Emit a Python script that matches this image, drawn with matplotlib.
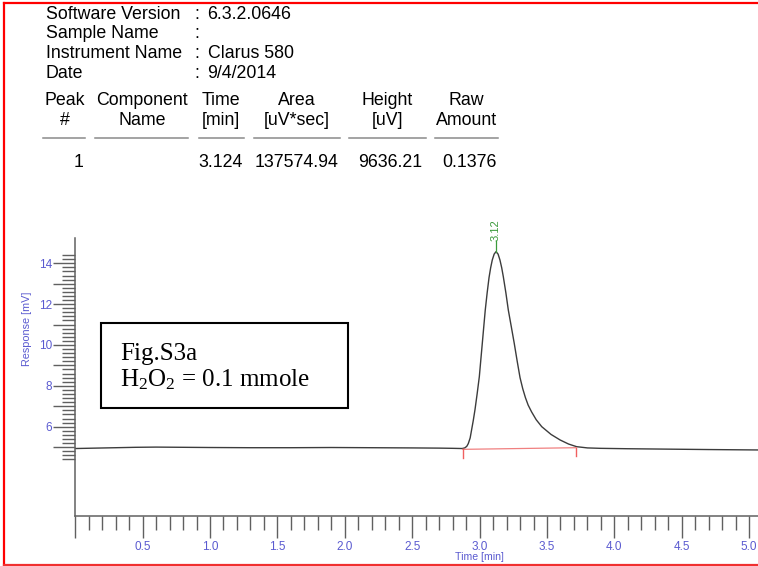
import matplotlib
matplotlib.use('Agg')
import matplotlib.pyplot as plt
from matplotlib.lines import Line2D
from matplotlib.patches import Rectangle
import numpy as np

plt.rcParams['mathtext.fontset'] = 'custom'
plt.rcParams['mathtext.rm'] = 'Liberation Serif'
plt.rcParams['mathtext.it'] = 'Liberation Serif:italic'

# report header
header_keys = ['Software Version', 'Sample Name', 'Instrument Name', 'Date']
header_vals = ['6.3.2.0646', '', 'Clarus 580', '9/4/2014']

# peak table
col_head1 = ['Peak', 'Component', 'Time', 'Area', 'Height', 'Raw']
col_head2 = ['#', 'Name', '[min]', '[uV*sec]', '[uV]', 'Amount']
row_vals = ['1', '', '3.124', '137574.94', '9636.21', '0.1376']

# chromatogram trace (time in min, response in mV)
time = [0.00, 0.15, 0.30, 0.45, 0.60, 0.80, 1.00, 1.30, 1.60, 1.90, 2.20,
        2.50, 2.70, 2.80, 2.87, 2.89, 2.905, 2.916, 2.93, 2.94, 2.953,
        2.966, 2.982, 2.998, 3.009, 3.020, 3.031, 3.042, 3.056, 3.070,
        3.082, 3.094, 3.108, 3.122, 3.137, 3.151, 3.164, 3.176, 3.195,
        3.213, 3.235, 3.257, 3.279, 3.300, 3.320, 3.340, 3.360, 3.386,
        3.420, 3.461, 3.530, 3.597, 3.660, 3.720, 3.800, 3.893, 4.10,
        4.40, 4.70, 5.065]
resp = [4.93, 4.95, 4.97, 4.99, 5.00, 4.99, 4.98, 4.97, 4.97, 4.98, 4.97,
        4.96, 4.95, 4.94, 4.93, 4.96, 5.04, 5.17, 5.45, 5.82, 6.30,
        6.84, 7.62, 8.45, 9.27, 10.08, 10.90, 11.71, 12.55, 13.30,
        13.78, 14.16, 14.45, 14.57, 14.45, 14.16, 13.78, 13.34, 12.55,
        11.71, 10.90, 10.08, 9.20, 8.40, 7.86, 7.42, 7.06, 6.72,
        6.34, 6.00, 5.62, 5.35, 5.15, 5.02, 4.96, 4.94, 4.92,
        4.90, 4.88, 4.86]

# integration baseline and peak label
base_t = [2.875, 3.716]
base_r = [4.89, 4.97]
peak_t = 3.122
peak_r = 14.57
peak_label = '3.12'

W, H = 758, 566
fig = plt.figure(figsize=(W / 100, H / 100), dpi=100)


def fx(px):
    return px / W


def fy(py):
    return 1 - py / H


sans = ['Liberation Sans', 'DejaVu Sans']
narrow = ['Liberation Sans Narrow', 'Liberation Sans', 'DejaVu Sans']
serif = ['Liberation Serif', 'DejaVu Serif']
fs = 12.8

# header lines
for i, (k, v) in enumerate(zip(header_keys, header_vals)):
    yb = 19 + i * 19.5
    fig.text(fx(45.7), fy(yb), k, family=sans, fontsize=fs, va='baseline')
    fig.text(fx(194), fy(yb), ':', family=sans, fontsize=fs, va='baseline')
    fig.text(fx(207.5), fy(yb), v, family=sans, fontsize=fs, va='baseline')

centers = [64.5, 142, 221, 296.5, 387.5, 466.5]
rights = [83.3, 0, 242.7, 338.3, 422.7, 496.7]
rules = [(43, 85), (95, 188), (199, 244), (254, 340), (349, 426), (435, 498)]
for i in range(6):
    fig.text(fx(centers[i]), fy(105), col_head1[i], family=sans, fontsize=fs,
             ha='center', va='baseline')
    fig.text(fx(centers[i]), fy(125), col_head2[i], family=sans, fontsize=fs,
             ha='center', va='baseline')
    fig.add_artist(Line2D([fx(rules[i][0]), fx(rules[i][1])], [fy(138.3), fy(138.3)],
                          color='#8a8a8a', lw=1.1))
    if row_vals[i]:
        fig.text(fx(rights[i]), fy(166.7), row_vals[i], family=sans, fontsize=fs,
                 ha='right', va='baseline')

# plot area
x_left, x_right = 75.2, 758
y_top, y_bot = 238, 516
ax = fig.add_axes([fx(x_left), fy(y_bot), (x_right - x_left) / W, (y_bot - y_top) / H])
ax.set_xlim(0, (x_right - x_left) / 134.8)
ax.set_ylim(5 - (y_bot - 447.1) / 20.425, 5 + (447.1 - y_top) / 20.425)

ax.plot(time, resp, color='#3c3c3c', lw=1.0)
ax.plot(base_t, base_r, color='#f08080', lw=0.9)
for t, r in zip(base_t, base_r):
    ax.plot([t, t], [r, r - 0.42], color='#f06060', lw=1.0)

ax.plot([peak_t, peak_t], [peak_r, peak_r + 0.5], color='#3a9a3a', lw=0.9, clip_on=False)
ax.text(peak_t, peak_r + 0.5, peak_label, rotation=90, ha='center', va='bottom',
        color='#3a9a3a', fontsize=8, family=narrow, clip_on=False)

for s in ['top', 'right']:
    ax.spines[s].set_visible(False)
for s in ['left', 'bottom']:
    ax.spines[s].set_color('#606060')
    ax.spines[s].set_linewidth(1.1)

tick_col = '#5a5ad0'
ax.set_xticks(np.arange(0, 5.01, 0.5))
ax.set_xticklabels([''] + ['%.1f' % v for v in np.arange(0.5, 5.01, 0.5)])
ax.set_xticks(np.arange(0, 5.06, 0.1), minor=True)
ax.set_yticks(np.arange(5, 14.5, 1))
ax.set_yticklabels([str(v) if v % 2 == 0 else '' for v in range(5, 15)])
ax.set_yticks(np.arange(4.4, 14.5, 0.2), minor=True)

ax.tick_params(axis='x', which='major', length=16, width=1.0, color='#606060',
               labelcolor=tick_col, labelsize=8.5, pad=2)
ax.tick_params(axis='x', which='minor', length=10, width=1.0, color='#606060')
ax.tick_params(axis='y', which='major', length=15.5, width=1.0, color='#606060',
               labelcolor=tick_col, labelsize=8.5, pad=1)
ax.tick_params(axis='y', which='minor', length=9.5, width=1.0, color='#606060')
for lab in ax.get_xticklabels() + ax.get_yticklabels():
    lab.set_family(narrow)

fig.text(fx(479.6), fy(557), 'Time [min]', family=narrow, fontsize=7.6, color=tick_col,
         ha='center', va='center')
fig.text(fx(27), fy(329), 'Response [mV]', family=narrow, fontsize=7.8, color=tick_col,
         ha='center', va='center', rotation=90)

# annotation box
fig.add_artist(Rectangle((fx(101), fy(407.7)), (348.3 - 101) / W, (407.7 - 322.7) / H,
                         fill=False, edgecolor='black', lw=1.5))
fig.text(fx(120), fy(360), 'Fig.S3a', family=serif, fontsize=18, va='baseline')
fig.text(fx(120), fy(386.7), r'H$_2$O$_2$ = 0.1 mmole', family=serif, fontsize=18,
         va='baseline')

# red frame
red = '#ff0000'
fig.add_artist(Line2D([fx(4), fx(4)], [fy(3), fy(564.7)], color=red, lw=1.6))
fig.add_artist(Line2D([fx(4), fx(758)], [fy(3), fy(3)], color=red, lw=1.6))
fig.add_artist(Line2D([fx(4), fx(758)], [fy(564.7), fy(564.7)], color='#f03030', lw=1.6))

fig.savefig('out.png', dpi=100)
